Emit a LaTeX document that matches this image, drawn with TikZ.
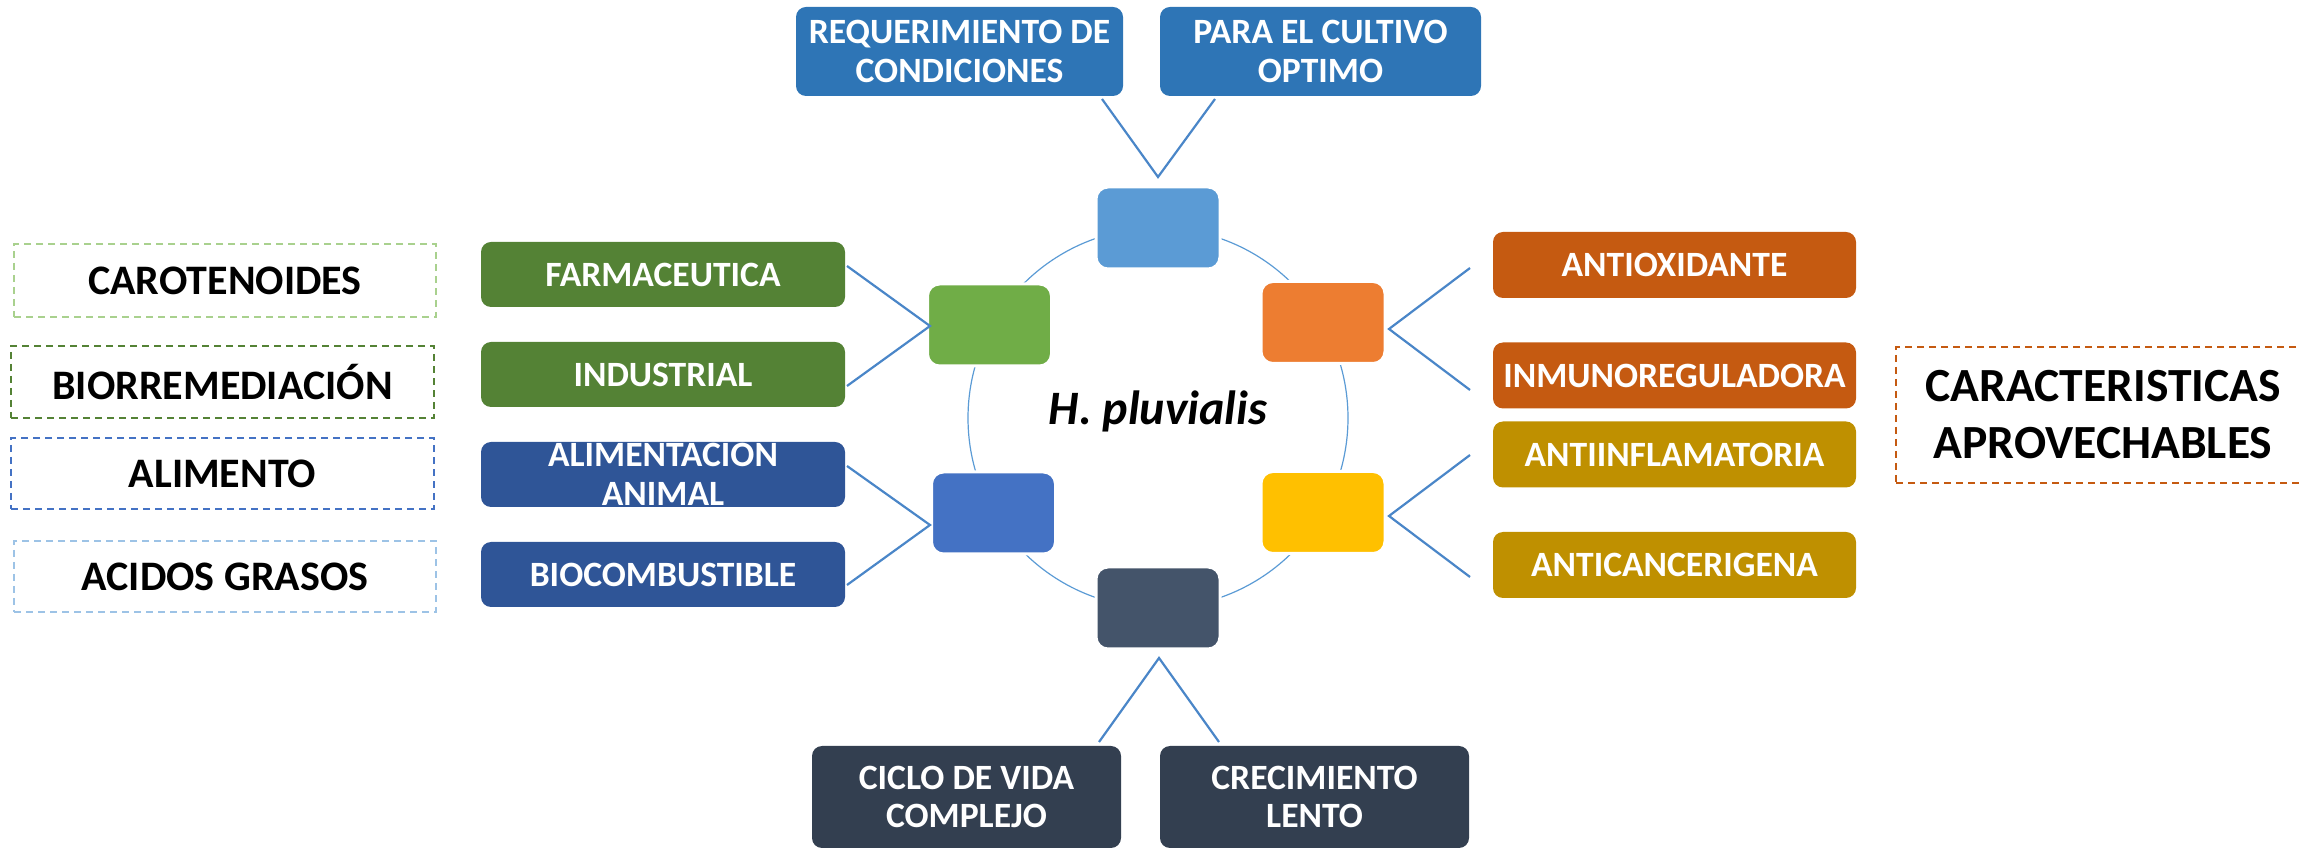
\documentclass[tikz,border=0pt]{standalone}
\usepackage{fontspec}
\setmainfont{Carlito}
\definecolor{cTop}{HTML}{5B9BD5}
\definecolor{cOra}{HTML}{ED7D31}
\definecolor{cYel}{HTML}{FFC000}
\definecolor{cDrk}{HTML}{44546A}
\definecolor{cBlu}{HTML}{4472C4}
\definecolor{cGrn}{HTML}{70AD47}
\definecolor{bTop}{HTML}{2E75B6}
\definecolor{bGrn}{HTML}{548235}
\definecolor{bBlu}{HTML}{2F5597}
\definecolor{bOra}{HTML}{C55A11}
\definecolor{bYel}{HTML}{BF9000}
\definecolor{bDrk}{HTML}{333F50}
\definecolor{dLgr}{HTML}{A9D18E}
\definecolor{dDgr}{HTML}{548235}
\definecolor{dBlu}{HTML}{4472C4}
\definecolor{dLbl}{HTML}{9DC3E6}
\definecolor{dOra}{HTML}{C55A11}
\definecolor{lineblue}{HTML}{4A86C8}
\definecolor{circblue}{HTML}{5B9BD5}
\begin{document}
\begin{tikzpicture}[x=0.5pt,y=-0.5pt,
  bigbox/.style={rounded corners=5pt, inner sep=0pt, align=center, text=white,
    font=\bfseries\fontsize{17.8}{19.2}\selectfont},
  smallbox/.style={rounded corners=6pt, inner sep=0pt, minimum width=62pt, minimum height=41pt,
    draw=white, line width=1.5pt},
  dbox/.style={draw, dash pattern=on 3.5pt off 2.5pt, line width=0.7pt, inner sep=0pt,
    align=center, text=black, font=\bfseries\fontsize{21}{24}\selectfont},
  conn/.style={draw=lineblue, line width=1.1pt}]
\useasboundingbox (0,0) rectangle (2299,849);
\begin{scope}
\clip (0,0) rectangle (2299,849);
% circle
\coordinate (cc) at (1158,418);
\draw[circblue, line width=0.6pt] (cc) circle[radius=190];
% small boxes
\node[smallbox, fill=cTop] (sTop) at (1158,228) {};
\node[smallbox, fill=cOra] (sOra) at (1323,322.5) {};
\node[smallbox, fill=cYel] (sYel) at (1323,512.5) {};
\node[smallbox, fill=cDrk] (sDrk) at (1158,608) {};
\node[smallbox, fill=cBlu] (sBlu) at (993.5,513) {};
\node[smallbox, fill=cGrn] (sGrn) at (989.5,325) {};
% center text
\node[font=\bfseries\itshape\fontsize{24}{26}\selectfont] (hp) at (1158,411) {H. pluvialis};
% big boxes
\node[bigbox, fill=bTop, minimum width=163.5pt, minimum height=44.5pt] (req) at (959.5,51.5) {REQUERIMIENTO DE\\CONDICIONES};
\node[bigbox, fill=bTop, minimum width=160.5pt, minimum height=44.5pt] (para) at (1320.5,51.5) {PARA EL CULTIVO\\OPTIMO};
\node[bigbox, fill=bGrn, minimum width=182pt, minimum height=32.5pt] (farm) at (663,274.5) {FARMACEUTICA};
\node[bigbox, fill=bGrn, minimum width=182pt, minimum height=32.5pt] (ind) at (663,374.5) {INDUSTRIAL};
\node[bigbox, fill=bBlu, minimum width=182pt, minimum height=32.5pt] (alim) at (663,474.5) {ALIMENTACION\\ANIMAL};
\node[bigbox, fill=bBlu, minimum width=182pt, minimum height=32.5pt] (bioc) at (663,574.5) {BIOCOMBUSTIBLE};
\node[bigbox, fill=bOra, minimum width=181.5pt, minimum height=33pt] (antiox) at (1674.5,265) {ANTIOXIDANTE};
\node[bigbox, fill=bOra, minimum width=181.5pt, minimum height=33pt] (inmu) at (1674.5,375.5) {INMUNOREGULADORA};
\node[bigbox, fill=bYel, minimum width=181.5pt, minimum height=33pt] (infl) at (1674.5,454.5) {ANTIINFLAMATORIA};
\node[bigbox, fill=bYel, minimum width=181.5pt, minimum height=33pt] (canc) at (1674.5,565) {ANTICANCERIGENA};
\node[bigbox, fill=bDrk, minimum width=154.5pt, minimum height=51pt] (ciclo) at (966.5,797) {CICLO DE VIDA\\COMPLEJO};
\node[bigbox, fill=bDrk, minimum width=154.5pt, minimum height=51pt] (crec) at (1314.5,797) {CRECIMIENTO\\LENTO};
% dashed boxes
\node[dbox, draw=dLgr, minimum width=211pt, minimum height=36.5pt] (caro) at (225,280.5) {CAROTENOIDES};
\node[dbox, draw=dDgr, minimum width=211.5pt, minimum height=36pt] (bior) at (222.5,382) {BIORREMEDIACIÓN};
\node[dbox, draw=dBlu, minimum width=211.5pt, minimum height=35.5pt] (alimento) at (222.5,473.5) {ALIMENTO};
\node[dbox, draw=dLbl, minimum width=211pt, minimum height=35.5pt] (acid) at (225,576.5) {ACIDOS GRASOS};
\node[dbox, draw=dOra, minimum width=207pt, minimum height=68pt, font=\bfseries\fontsize{23.8}{28.5}\selectfont] (carac) at (2103,415) {CARACTERISTICAS\\APROVECHABLES};
% connector coordinates
\coordinate (vT) at (1158,177);
\coordinate (eT1) at (1102,99);
\coordinate (eT2) at (1215,99);
\coordinate (vG) at (930,326);
\coordinate (eG1) at (847,266);
\coordinate (eG2) at (847,386);
\coordinate (vB) at (930,525);
\coordinate (eB1) at (847,466);
\coordinate (eB2) at (847,585);
\coordinate (vO) at (1389,329);
\coordinate (eO1) at (1470,268);
\coordinate (eO2) at (1470,390);
\coordinate (vY) at (1389,516);
\coordinate (eY1) at (1470,455);
\coordinate (eY2) at (1470,577);
\coordinate (vD) at (1159,658);
\coordinate (eD1) at (1099,742);
\coordinate (eD2) at (1219,742);
\draw[conn] (eT1) -- (vT) -- (eT2);
\draw[conn] (eG1) -- (vG) -- (eG2);
\draw[conn] (eB1) -- (vB) -- (eB2);
\draw[conn] (eO1) -- (vO) -- (eO2);
\draw[conn] (eY1) -- (vY) -- (eY2);
\draw[conn] (eD1) -- (vD) -- (eD2);
\end{scope}
\end{tikzpicture}
\end{document}
